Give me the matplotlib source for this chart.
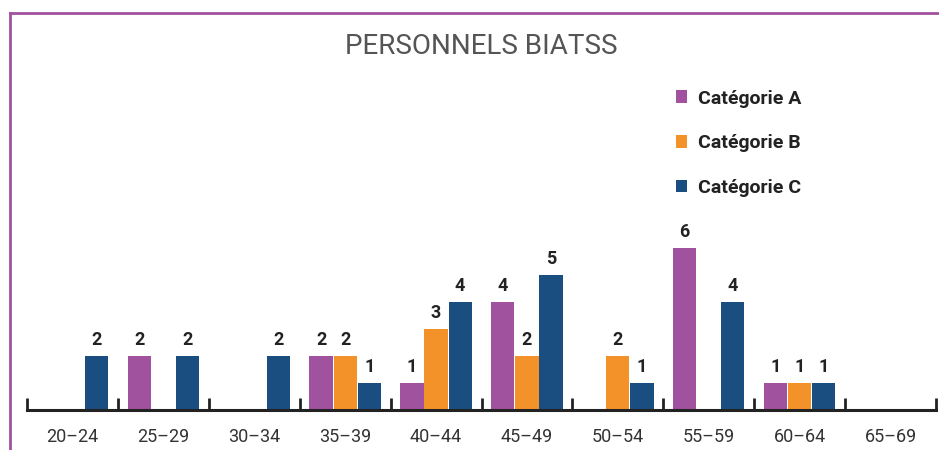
import matplotlib
matplotlib.use("Agg")
import matplotlib.pyplot as plt
from matplotlib.lines import Line2D
import numpy as np

plt.rcParams['font.family'] = ['Roboto', 'DejaVu Sans']

age_groups = ["20–24", "25–29", "30–34", "35–39", "40–44",
              "45–49", "50–54", "55–59", "60–64", "65–69"]
cat_a = [0, 2, 0, 2, 1, 4, 0, 6, 1, 0]
cat_b = [0, 0, 0, 2, 3, 2, 2, 0, 1, 0]
cat_c = [2, 2, 2, 1, 4, 5, 1, 4, 1, 0]
series = [("Catégorie A", cat_a, "#A0529E"),
          ("Catégorie B", cat_b, "#F4922A"),
          ("Catégorie C", cat_c, "#1A4E80")]

fig = plt.figure(figsize=(9.39, 4.5), dpi=100)
ax = fig.add_axes([27 / 939, 40 / 450, 909 / 939, 378 / 450])

x = np.arange(len(age_groups))
width = 0.255
offsets = [-0.265, 0.0, 0.265]
handles = []
for (name, vals, color), off in zip(series, offsets):
    vals = np.array(vals)
    keep = vals > 0
    b = ax.bar(x[keep] + off, vals[keep], width=width, color=color, zorder=2, label=name)
    handles.append(b)
    for xi, v in zip(x[keep] + off, vals[keep]):
        ax.annotate(str(v), (xi, v), xytext=(0, 5), textcoords="offset points",
                    ha="center", va="bottom", fontsize=13, fontweight="bold", color="#222222")

ax.set_xlim(-0.5, len(age_groups) - 0.5)
ax.set_ylim(0, 14)
for s in ["top", "right", "left"]:
    ax.spines[s].set_visible(False)
ax.spines["bottom"].set_color("#222222")
ax.spines["bottom"].set_linewidth(2.2)
ax.spines["bottom"].set_zorder(3)
ax.set_yticks([])
ax.set_xticks(x, age_groups)
ax.tick_params(axis="x", which="major", length=0, pad=13, labelsize=13, labelcolor="#333333")
ax.set_xticks(np.arange(-0.5, len(age_groups)), minor=True)
ax.tick_params(axis="x", which="minor", direction="in", length=9, width=2, color="#222222")

fig.text(0.513, 1 - 47 / 450, "PERSONNELS BIATSS", ha="center", va="center",
         fontsize=20, color="#555555")

leg = fig.legend(handles=handles, loc="upper left", bbox_to_anchor=(658 / 939, 1 - 72 / 450),
                 frameon=False, handlelength=0.6, handleheight=0.6, handletextpad=0.55,
                 labelspacing=1.38, prop={"size": 14, "weight": "bold"})
for t in leg.get_texts():
    t.set_color("#222222")

# purple frame (top and left)
fig.add_artist(Line2D([10 / 939, 1], [1 - 13 / 450, 1 - 13 / 450], color="#A0529E", lw=2))
fig.add_artist(Line2D([10 / 939, 10 / 939], [0, 1 - 13 / 450], color="#A0529E", lw=2))

fig.savefig("out.png", dpi=100)
